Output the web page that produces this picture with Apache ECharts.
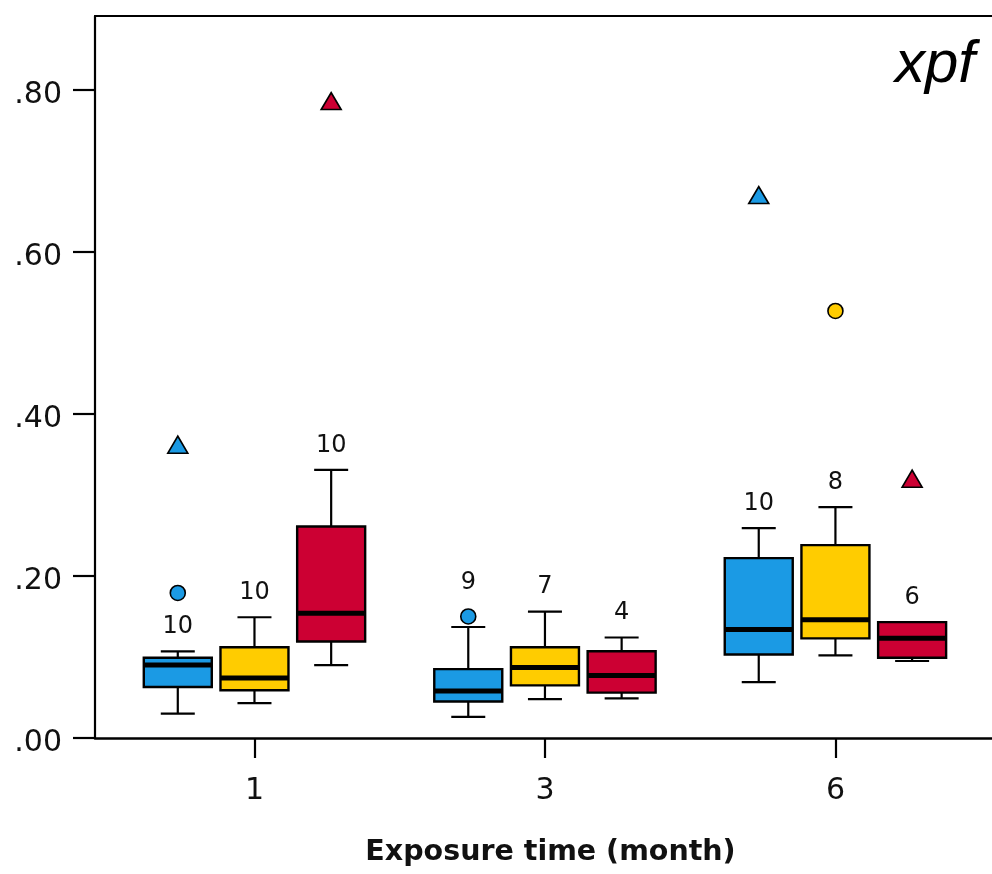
<!DOCTYPE html>
<html>
<head>
<meta charset="utf-8">
<script src="https://cdn.jsdelivr.net/npm/echarts@6/dist/echarts.min.js"></script>
<style>html,body{margin:0;padding:0;background:#fff;}#c{width:992px;height:874px;}</style>
</head>
<body>
<div id="c"></div>
<script>
// ---- data ----
const categories = ['1', '3', '6'];
const yTickValues = [0, 0.2, 0.4, 0.6, 0.8];

const blueLow    = [0.030, 0.026, 0.069];
const blueQ1     = [0.063, 0.045, 0.103];
const blueMedian = [0.090, 0.058, 0.134];
const blueQ3     = [0.099, 0.085, 0.222];
const blueHigh   = [0.107, 0.137, 0.259];
const blueN      = [10, 9, 10];
const blueCircles   = [[0, 0.179], [1, 0.150]];
const blueTriangles = [[0, 0.362], [2, 0.670]];

const yellowLow    = [0.043, 0.048, 0.102];
const yellowQ1     = [0.059, 0.065, 0.123];
const yellowMedian = [0.074, 0.087, 0.146];
const yellowQ3     = [0.112, 0.112, 0.238];
const yellowHigh   = [0.149, 0.156, 0.285];
const yellowN      = [10, 7, 8];
const yellowCircles   = [[2, 0.527]];
const yellowTriangles = [];

const redLow    = [0.090, 0.049, 0.095];
const redQ1     = [0.119, 0.056, 0.099];
const redMedian = [0.154, 0.077, 0.123];
const redQ3     = [0.261, 0.107, 0.143];
const redHigh   = [0.331, 0.124, 0.143];
const redN      = [10, 4, 6];
const redCircles   = [];
const redTriangles = [[0, 0.786], [2, 0.320]];

// ---- styling / layout ----
const FONT = 'DejaVu Sans';
const BLUE = '#1B9AE4', YELLOW = '#FFCC00', RED = '#CC0033';
const OFFSET = 0.264;      // sub-group offset in category units
const BOX_HALF = 34;       // px
const CAP_HALF = 17;       // px
const X_MIN = -0.549, X_MAX = 2.539;

function boxData(low, q1, med, q3, high, n, circles) {
  return categories.map((c, i) => {
    let anchor = high[i], lifted = 0;
    circles.forEach(([ci, v]) => { if (ci === i && v > high[i] && v - high[i] < 0.03) { anchor = v; lifted = 1; } });
    return [i, low[i], q1[i], med[i], q3[i], high[i], n[i], anchor, lifted];
  });
}

function makeRender(offset, color) {
  return function (params, api) {
    const ci = api.value(0);
    const y = v => api.coord([ci + offset, v])[1];
    const x = api.coord([ci + offset, 0])[0];
    const yLow = y(api.value(1)), yQ1 = y(api.value(2)), yMed = y(api.value(3)),
          yQ3 = y(api.value(4)), yHigh = y(api.value(5));
    const n = api.value(6);
    const yLab = y(api.value(7)) - (api.value(8) ? 34 : 24.5);
    const ls = { stroke: '#000', lineWidth: 2.2 };
    return {
      type: 'group',
      children: [
        { type: 'line', shape: { x1: x, y1: yHigh, x2: x, y2: yQ3 }, style: ls },
        { type: 'line', shape: { x1: x - CAP_HALF, y1: yHigh, x2: x + CAP_HALF, y2: yHigh }, style: ls },
        { type: 'line', shape: { x1: x, y1: yQ1, x2: x, y2: yLow }, style: ls },
        { type: 'line', shape: { x1: x - CAP_HALF, y1: yLow, x2: x + CAP_HALF, y2: yLow }, style: ls },
        { type: 'rect', shape: { x: x - BOX_HALF, y: yQ3, width: BOX_HALF * 2, height: yQ1 - yQ3 },
          style: { fill: color, stroke: '#000', lineWidth: 2.4 } },
        { type: 'line', shape: { x1: x - BOX_HALF, y1: yMed, x2: x + BOX_HALF, y2: yMed },
          style: { stroke: '#000', lineWidth: 5 } },
        { type: 'text', style: { text: String(n), x: x, y: yLab, align: 'center', verticalAlign: 'middle',
          font: '24px "' + FONT + '"', fill: '#111' } }
      ]
    };
  };
}

function outliers(list, offset) { return list.map(([ci, v]) => [ci + offset, v]); }

const groups = [
  { name: 'Blue', color: BLUE, off: -OFFSET, d: boxData(blueLow, blueQ1, blueMedian, blueQ3, blueHigh, blueN, blueCircles), c: blueCircles, t: blueTriangles },
  { name: 'Yellow', color: YELLOW, off: 0, d: boxData(yellowLow, yellowQ1, yellowMedian, yellowQ3, yellowHigh, yellowN, yellowCircles), c: yellowCircles, t: yellowTriangles },
  { name: 'Red', color: RED, off: OFFSET, d: boxData(redLow, redQ1, redMedian, redQ3, redHigh, redN, redCircles), c: redCircles, t: redTriangles }
];

const series = [];
groups.forEach(g => {
  series.push({ type: 'custom', name: g.name, renderItem: makeRender(g.off, g.color), data: g.d,
                encode: { x: 0, y: [1, 2, 3, 4, 5] }, z: 2 });
  series.push({ type: 'scatter', name: g.name + ' outliers', data: outliers(g.c, g.off), symbol: 'circle', symbolSize: 15,
                itemStyle: { color: g.color, borderColor: '#000', borderWidth: 1.6, opacity: 1 }, z: 3 });
  series.push({ type: 'scatter', name: g.name + ' extremes', data: outliers(g.t, g.off), symbol: 'triangle', symbolSize: [20, 17],
                itemStyle: { color: g.color, borderColor: '#000', borderWidth: 1.6, opacity: 1 }, z: 3 });
});

const chart = echarts.init(document.getElementById('c'));
chart.setOption({
  animation: false,
  backgroundColor: '#fff',
  title: { text: 'xpf', right: 12, top: 30,
           textStyle: { fontFamily: 'Liberation Sans', fontStyle: 'italic', fontWeight: 'normal', fontSize: 60, color: '#000' } },
  grid: { left: 95, top: 16, right: 0, bottom: 136 },
  xAxis: [{
    type: 'value', min: X_MIN, max: X_MAX,
    name: 'Exposure time (month)', nameLocation: 'middle', nameGap: 100,
    nameTextStyle: { fontFamily: FONT, fontWeight: 'bold', fontSize: 28.5, color: '#111', padding: [0, 0, 0, 14] },
    axisLine: { onZero: false, lineStyle: { color: '#000', width: 2.6 } },
    axisTick: { customValues: [0, 1, 2], length: 20, lineStyle: { color: '#000', width: 2.2 } },
    axisLabel: { customValues: [0, 1, 2], formatter: v => categories[Math.round(v)], fontFamily: FONT, fontSize: 30, color: '#111', margin: 38 },
    splitLine: { show: false }
  }, {
    type: 'value', min: X_MIN, max: X_MAX, position: 'top',
    axisLine: { show: true, onZero: false, lineStyle: { color: '#000', width: 2.2 } },
    axisTick: { show: false }, axisLabel: { show: false }, splitLine: { show: false }
  }],
  yAxis: {
    type: 'value', min: 0, max: 0.891,
    axisLine: { show: true, onZero: false, lineStyle: { color: '#000', width: 2.2 } },
    axisTick: { show: true, customValues: yTickValues, length: 22, lineStyle: { color: '#000', width: 2.2 } },
    axisLabel: { customValues: yTickValues, formatter: v => v.toFixed(2).replace(/^0/, ''), fontFamily: FONT, fontSize: 30, color: '#111', margin: 33,
                 verticalAlign: 'top', lineHeight: 10 },
    splitLine: { show: false }
  },
  series: series
});
</script>
</body>
</html>
